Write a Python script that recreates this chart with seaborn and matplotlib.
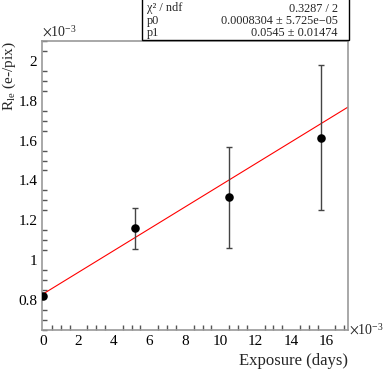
import numpy as np
import pandas as pd
import matplotlib
matplotlib.use("Agg")
import matplotlib.pyplot as plt
from matplotlib.ticker import MultipleLocator
import seaborn as sns

# data (x in 1e-3 days, y in 1e-3 e-/pix)
exposure = [0.0, 5.2, 10.5, 15.7]
rate = [0.82, 1.16, 1.315, 1.615]
rate_err = [0.012, 0.102, 0.255, 0.362]
p0 = 0.8304   # x1e-3
p1 = 0.0545
x_range = [-0.05, 17.2]
y_range = [0.65, 2.1]

sns.set_style("white")
plt.rcParams['font.family'] = ['Liberation Serif', 'DejaVu Serif']
plt.rcParams['mathtext.fontset'] = 'stix'

fig = plt.figure(figsize=(3.9, 3.72), dpi=100)
ax = fig.add_axes([0.108, 0.113, 0.784, 0.777])

df = pd.DataFrame({'x': exposure, 'y': rate})
fit = pd.DataFrame({'x': x_range, 'y': [p0 + p1 * x for x in x_range]})

sns.lineplot(data=fit, x='x', y='y', color='red', linewidth=0.8, ax=ax, zorder=2)
ax.errorbar(exposure, rate, yerr=rate_err, fmt='none', ecolor='#444444',
            elinewidth=1.0, capsize=2.5, capthick=1.0, zorder=3)
sns.scatterplot(data=df, x='x', y='y', color='black', s=38, edgecolor='black',
                linewidth=0, ax=ax, zorder=4)

ax.set_xlim(x_range)
ax.set_ylim(y_range)
ax.xaxis.set_major_locator(MultipleLocator(2))
ax.xaxis.set_minor_locator(MultipleLocator(0.5))
ax.yaxis.set_major_locator(MultipleLocator(0.2))
ax.yaxis.set_minor_locator(MultipleLocator(0.05))
ax.yaxis.set_major_formatter(matplotlib.ticker.FuncFormatter(lambda v, p: ('%g' % round(v, 2))))
ax.tick_params(which='both', direction='in', colors='#555555', labelcolor='black',
               labelsize=11, top=False, right=False)
ax.tick_params(which='major', length=7, width=1)
ax.tick_params(which='minor', length=3.5, width=1, left=True, bottom=True)
for s in ax.spines.values():
    s.set_color('#999999')
    s.set_linewidth(1.2)

ax.set_xlabel('Exposure (days)', fontsize=12, loc='right', labelpad=4)
ax.set_ylabel(r'R$_{\mathregular{le}}$ (e-/pix)', fontsize=11, loc='top')
ax.yaxis.set_label_coords(-0.079, 1.0)
ax.text(0.0, 1.005, r'$\times$10$^{\mathregular{-3}}$', transform=ax.transAxes,
        fontsize=10, va='bottom', ha='left')
ax.text(1.003, 0.0, r'$\times$10$^{\mathregular{-3}}$', transform=ax.transAxes,
        fontsize=10, va='center', ha='left')

# stats box
bx0, by0, bw, bh = 142 / 390, 1 - 40 / 372, 207 / 390, 40 / 372
fig.patches.append(plt.Rectangle((bx0, by0), bw, bh + 0.01, transform=fig.transFigure,
                                 facecolor='white', edgecolor='black', linewidth=1))
rows = [('χ² / ndf', '0.3287 / 2'),
        ('p0', '0.0008304 ± 5.725e\u221205'),
        ('p1', '0.0545 ± 0.01474')]
for i, (k, v) in enumerate(rows):
    yy = 1 - (8.5 + i * 12.3) / 372
    fig.text(bx0 + 5 / 390, yy, k, fontsize=8.8, va='center', ha='left')
    fig.text(bx0 + bw - 11 / 390, yy, v, fontsize=8.8, va='center', ha='right')

fig.savefig('out.png', dpi=100)
